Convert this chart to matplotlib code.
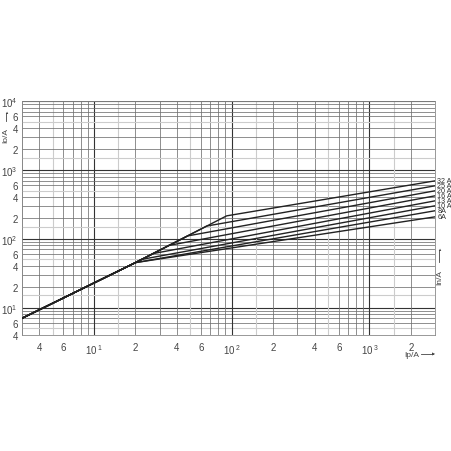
import matplotlib.pyplot as plt

plt.rcParams['font.family'] = ['Liberation Sans', 'DejaVu Sans']
plt.rcParams['mathtext.fontset'] = 'custom'
plt.rcParams['mathtext.rm'] = 'Liberation Sans'

# data (Ip prospective current / A, Io let-through current / A)
common_ip = [3, 20]
common_io = [7, 45]
ratings = ["32 A", "25 A", "20 A", "16 A", "13 A", "10 A", "8A", "6A"]
knee_ip = [92, 66, 48, 35, 27, 22, 20, 20]
knee_io = [215, 153, 110, 80, 61, 50, 45, 45]
end_ip = 3000
end_io = [693, 587, 497, 420, 355, 301, 255, 208]

x_ticks = [4, 6, 10, 20, 40, 60, 100, 200, 400, 600, 1000, 2000]
x_labels = ["4", "6", r"$10^{\,1}$", "2", "4", "6", r"$10^{\,2}$", "2", "4", "6", r"$10^{\,3}$", "2"]
y_ticks = [4, 6, 10, 20, 40, 60, 100, 200, 400, 600, 1000, 2000, 4000, 6000, 10000]
y_labels = ["4", "6", r"$10^{1}$", "2", "4", "6", r"$10^{2}$", "2", "4", "6", r"$10^{3}$", "2", "4", "6", r"$10^{4}$"]

fig = plt.figure(figsize=(4.52, 4.52), dpi=100)
ax = fig.add_axes([0.0487, 0.2566, 0.9137, 0.5177])
ax.set_xscale('log')
ax.set_yscale('log')
ax.set_xlim(3, 3000)
ax.set_ylim(4, 10000)

# grid: decades dark, 1.5 and 5 light, others mid grey
mults = [1, 1.5, 2, 3, 4, 5, 6, 7, 8, 9]
for dec in [1, 10, 100, 1000, 10000]:
    for m in mults:
        v = dec * m
        if m == 1:
            col, lw = '#333333', 0.8
        elif m in (1.5, 5):
            col, lw = '#cccccc', 0.8
        else:
            col, lw = '#707070', 0.55
        if 3 <= v <= 3000:
            ax.axvline(v, color=col, lw=lw, zorder=1)
        if 4 <= v <= 10000:
            ax.axhline(v, color=col, lw=lw, zorder=1)

for i, r in enumerate(ratings):
    xs = common_ip + [knee_ip[i], end_ip]
    ys = common_io + [knee_io[i], end_io[i]]
    ax.plot(xs, ys, color='#222222', lw=1.0, zorder=3)
    ax.text(1.006, end_io[i], r, transform=ax.get_yaxis_transform(),
            fontsize=5.2, va='center', ha='left', color='#333333',
            family=['Liberation Sans Narrow', 'Liberation Sans', 'DejaVu Sans'])

for s in ax.spines.values():
    s.set_color('#888888')
    s.set_linewidth(0.6)

ax.set_xticks(x_ticks)
ax.set_xticklabels(x_labels)
ax.set_yticks(y_ticks)
ax.set_yticklabels(y_labels)
ax.minorticks_off()
ax.tick_params(length=0, labelsize=7, colors='#444444')
ax.tick_params(axis='x', pad=5)
ax.tick_params(axis='y', pad=3)

# axis captions with arrows
fig.text(0.012, 0.700, "Io/A", rotation=90, fontsize=6, color='#444444', va='center', ha='center')
fig.add_artist(plt.Line2D([0.014, 0.014], [0.730, 0.748], color='#444444', lw=0.6))
fig.text(0.014, 0.751, "\u25b2", fontsize=3, color='#444444', ha='center', va='center')

fig.text(0.972, 0.385, "In/A", rotation=90, fontsize=6, color='#444444', va='center', ha='center')
fig.add_artist(plt.Line2D([0.972, 0.972], [0.418, 0.445], color='#444444', lw=0.6))
fig.text(0.972, 0.448, "\u25b2", fontsize=3, color='#444444', ha='center', va='center')

fig.text(0.895, 0.213, "Ip/A", fontsize=6, color='#444444', va='center', ha='left')
fig.add_artist(plt.Line2D([0.932, 0.957], [0.215, 0.215], color='#444444', lw=0.6))
fig.text(0.959, 0.215, "\u25b6", fontsize=3, color='#444444', ha='center', va='center')

fig.savefig('out.png', dpi=100, facecolor='white')
